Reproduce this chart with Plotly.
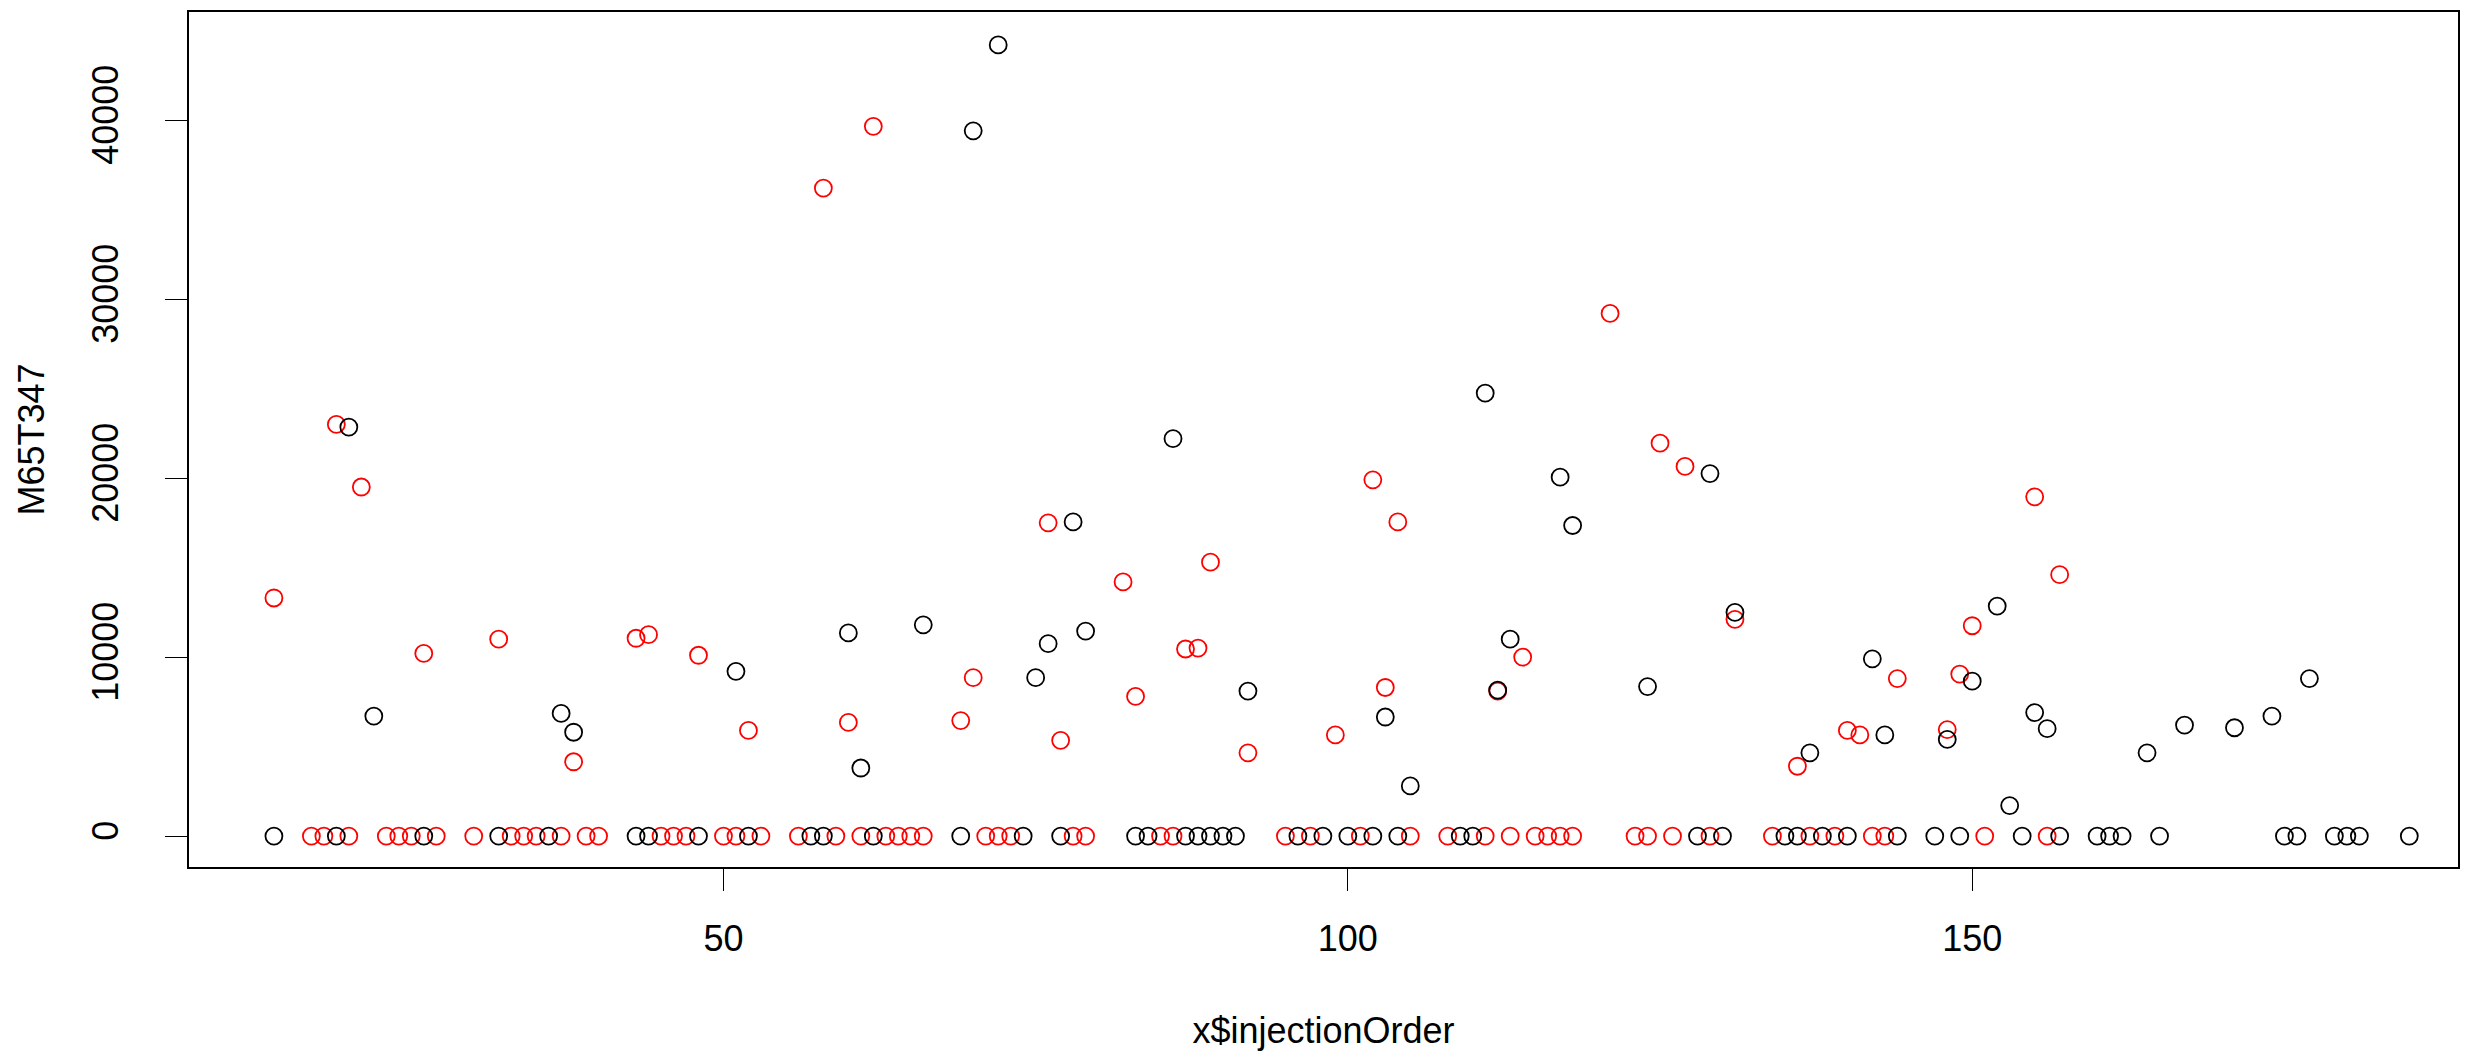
import plotly.graph_objects as go

# injection order / intensity pairs, black series
black_x = [14, 19, 26, 32, 36, 43, 44, 48, 52, 57, 58, 62, 69, 74, 77, 83, 84, 87,
           88, 89, 90, 91, 96, 98, 100, 102, 104, 109, 110, 128, 130, 135, 136, 138,
           140, 144, 147, 149, 154, 157, 160, 161, 162, 165, 175, 176, 179, 180, 181, 185,
           20, 22, 37, 38, 51, 60, 61, 66, 70, 72, 75, 76, 78, 79, 86, 92, 103, 105,
           111, 112, 113, 117, 118, 124, 129, 131, 137, 142, 143, 148, 150, 152, 153,
           155, 156, 164, 167, 171, 174, 177]
black_y = [0] * 50 + [
    22850, 6700, 6850, 5800, 9200, 11350, 3800, 11800, 39400, 44200, 8850, 10750,
    17550, 11450, 22200, 8100, 6650, 2800, 24750, 8150, 11000, 20050, 17350, 8350,
    20250, 12500, 4650, 9900, 5650, 5400, 8650, 12850, 1700, 6900, 6000, 4650, 6200,
    6050, 6700, 8800]

# red series
red_x = [17, 18, 20, 23, 24, 25, 27, 30, 33, 34, 35, 37, 39, 40, 45, 46, 47, 50, 51,
         53, 56, 59, 61, 63, 64, 65, 66, 71, 72, 73, 78, 79, 85, 86, 95, 97, 101, 105,
         108, 111, 113, 115, 116, 117, 118, 123, 124, 126, 129, 134, 137, 139, 142, 143,
         151, 156,
         14, 19, 21, 26, 32, 38, 43, 44, 48, 52, 58, 60, 62, 69, 70, 76, 77, 82, 83,
         87, 88, 89, 92, 99, 102, 103, 104, 112, 114, 121, 125, 127, 131, 136, 140,
         141, 144, 148, 149, 150, 155, 157]
red_y = [0] * 56 + [
    13300, 23000, 19500, 10200, 11000, 4150, 11050, 11250, 10100, 5900, 36200, 6350,
    39650, 6450, 8850, 17500, 5350, 14200, 7800, 10450, 10500, 15300, 4650, 5650,
    19900, 8300, 17550, 8100, 10000, 29200, 21950, 20650, 12100, 3900, 5900, 5650,
    8800, 5950, 9050, 11750, 18950, 14600]

x_ticks = [50, 100, 150]
y_ticks = [0, 10000, 20000, 30000, 40000]

# axis limits
x_range = [7.2, 188.9]
y_range = [-1730, 46040]

fig = go.Figure()
fig.add_trace(go.Scatter(
    x=red_x, y=red_y, mode="markers",
    marker=dict(symbol="circle-open", size=17, color="#ff0000", line=dict(width=1.8)),
))
fig.add_trace(go.Scatter(
    x=black_x, y=black_y, mode="markers",
    marker=dict(symbol="circle-open", size=17, color="#000000", line=dict(width=1.8)),
))

axis_font = dict(family="Liberation Sans, Arial", size=36, color="black")

# page has an 8px body margin, so the figure is a bit smaller than the window
fig.update_layout(
    width=2471, height=1045,
    margin=dict(l=181, r=21, t=2, b=186),
    plot_bgcolor="white", paper_bgcolor="white",
    showlegend=False,
    font=axis_font,
    xaxis=dict(
        range=x_range,
        tickvals=x_ticks, ticktext=[str(v) for v in x_ticks],
        ticks="outside", ticklen=22, tickwidth=1.3, tickcolor="black",
        showline=True, mirror=True, linewidth=2, linecolor="black",
        showgrid=False, zeroline=False,
        tickfont=axis_font, ticklabelstandoff=17,
        title=dict(text="x$injectionOrder", font=axis_font, standoff=60),
    ),
    yaxis=dict(
        range=y_range,
        tickvals=y_ticks, ticktext=[str(v) for v in y_ticks],
        tickangle=-90,
        ticks="outside", ticklen=22, tickwidth=1.3, tickcolor="black",
        showline=True, mirror=True, linewidth=2, linecolor="black",
        showgrid=False, zeroline=False,
        tickfont=axis_font, ticklabelstandoff=33,
        title=dict(text="M65T347", font=axis_font, standoff=29),
    ),
)

fig.write_html("out.html")
